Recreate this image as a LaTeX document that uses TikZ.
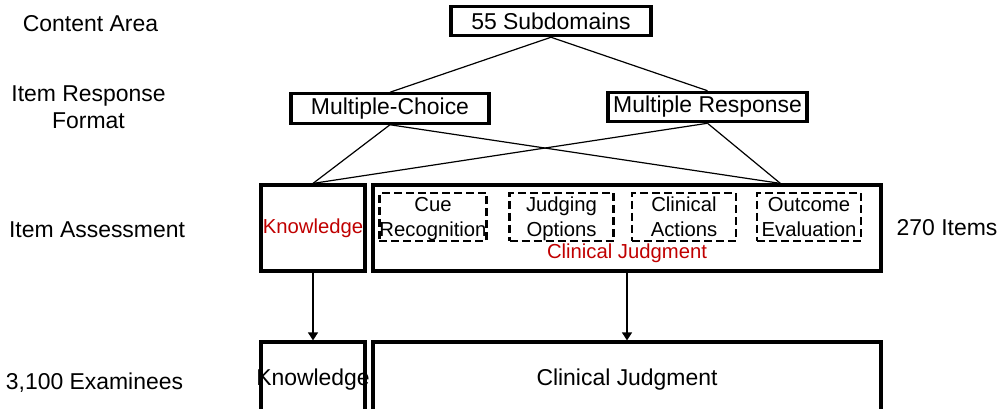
\documentclass[tikz,border=0pt]{standalone}
\usepackage{fontspec}
\setmainfont{Liberation Sans}
\usetikzlibrary{arrows.meta, positioning, calc}
\definecolor{cjred}{RGB}{192,0,0}

\begin{document}
\begin{tikzpicture}[
    x=0.75pt, y=-0.75pt,
    every node/.style={font=\fontsize{17.2}{20.4}\selectfont, inner sep=0pt},
    lvlab/.style={align=center},
    fmtbox/.style={draw, line width=2.4pt, minimum height=22pt},
    dimbox/.style={draw, line width=2.4pt, minimum height=64.5pt},
    stepbox/.style={draw, line width=2pt, dash pattern=on 6pt off 3pt,
        minimum width=78pt, minimum height=36pt, align=center, text depth=0pt,
        font=\fontsize{15.2}{18.75}\selectfont},
    redlab/.style={text=cjred, font=\fontsize{15.2}{18}\selectfont},
    conn/.style={line width=0.9pt},
    arrow/.style={-{Triangle[width=7.5pt, length=6pt]}, line width=0.9pt},
]
\useasboundingbox (0,0) rectangle (998,409);
\clip (0,0) rectangle (998,409);

% ===== LEVEL LABELS =====
\node[lvlab] (lab-area) at (90.5,24) {Content Area};
\node[lvlab] (lab-format) at (88.5,107.5) {Item Response\\Format};
\node[lvlab] (lab-assess) at (97,230) {Item Assessment};
\node[lvlab] (lab-exam) at (94.5,383) {3,100 Examinees};
\node[lvlab] (lab-items) at (947,228) {270 Items};

% ===== CONTENT AREA AND FORMATS =====
\node[fmtbox, minimum width=150pt] (sub) at (551,21) {55 Subdomains};
\node[fmtbox, minimum width=148.5pt] (mc) at (390,108.5) {Multiple-Choice};
\node[fmtbox, minimum width=149.25pt] (mr) at (707.5,107) {Multiple Response};

% ===== ITEM ASSESSMENT =====
\node[dimbox, minimum width=78pt, redlab] (know) at (313,228) {Knowledge};
\node[dimbox, minimum width=381pt] (cj) at (627,228) {};
\node[redlab] (cj-lab) at (627,253) {Clinical Judgment};

% Clinical judgment steps
\node[stepbox] (cue) at (433,217) {Cue\\Recognition};
\node[stepbox] (judge) at (561.5,217) {Judging\\Options};
\node[stepbox] (act) at (684,217) {Clinical\\Actions};
\node[stepbox] (eval) at (809,217) {Outcome\\Evaluation};

% ===== EXAMINEES (boxes run off the bottom) =====
\node[dimbox, minimum width=78pt, minimum height=57pt] (know-ex) at (313,380) {};
\node[dimbox, minimum width=381pt, minimum height=57pt] (cj-ex) at (627,380) {};
\node (know-ex-lab) at (313,380) {Knowledge};
\node (cj-ex-lab) at (627,380) {Clinical Judgment};

% ===== CONNECTORS =====
\coordinate (cj-in) at ($(cj.north west)!0.8!(cj.north east)$);
\draw[conn] (sub.south) -- (mc.north);
\draw[conn] (sub.south) -- (mr.north);
\draw[conn] (mc.south) -- (know.north);
\draw[conn] (mc.south) -- (cj-in);
\draw[conn] (mr.south) -- (know.north);
\draw[conn] (mr.south) -- (cj-in);

\draw[arrow] (know.south) -- (know-ex.north);
\draw[arrow] (cj.south) -- (cj-ex.north);

\end{tikzpicture}
\end{document}
